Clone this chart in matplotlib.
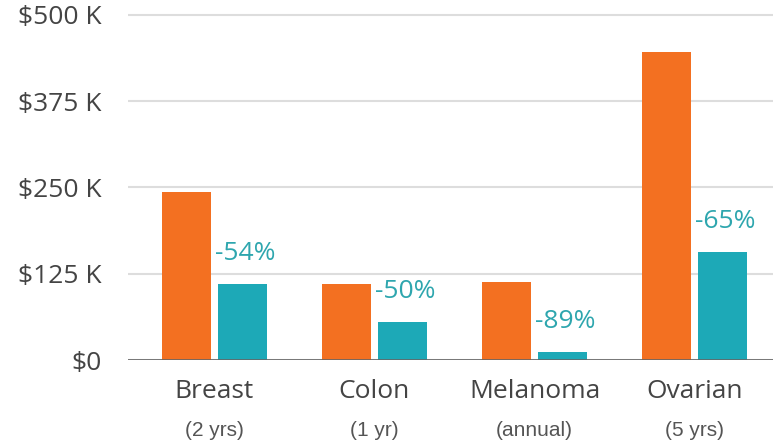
import numpy as np
import matplotlib.pyplot as plt
from matplotlib.transforms import blended_transform_factory

categories = ["Breast", "Colon", "Melanoma", "Ovarian"]
periods = ["(2 yrs)", "(1 yr)", "(annual)", "(5 yrs)"]
before_k = [243, 110, 113, 446]
after_k = [110, 55, 12, 156]
change_labels = ["-54%", "-50%", "-89%", "-65%"]
yticks = [0, 125, 250, 375, 500]
ytick_labels = ["$0", "$125 K", "$250 K", "$375 K", "$500 K"]

orange = "#F37021"
teal = "#1DA9B7"
label_teal = "#2EA6AE"

fig = plt.figure(figsize=(7.73, 4.42), dpi=100)
ax = fig.add_axes([128 / 773, 82 / 442, 645 / 773, 350 / 442])

x = np.arange(len(categories))
w = 0.306
off = 0.175
ax.bar(x - off, before_k, w, color=orange, zorder=3)
ax.bar(x + off, after_k, w, color=teal, zorder=3)

# percentage change above the teal bars
for xi, v, lab in zip(x, after_k, change_labels):
    ax.annotate(lab, (xi + off, v), xytext=(2.2, 17.3), textcoords="offset points",
                ha="center", va="baseline", color=label_teal, fontsize=19,
                family="Open Sans", zorder=4)

ax.set_xlim(-0.54, 3.49)
ax.set_ylim(0, 500 * 350 / 345)
ax.set_yticks(yticks)
ax.set_yticklabels(ytick_labels, family="Open Sans", fontsize=19, color="#444444")
ax.tick_params(axis="y", length=0, pad=19)
ax.set_xticks([])
ax.grid(axis="y", color="#DDDDDD", linewidth=1.5, zorder=0)
ax.axhline(0, color="#666666", linewidth=1.2, zorder=4)
for s in ax.spines.values():
    s.set_visible(False)

trans = blended_transform_factory(ax.transData, ax.transAxes)
for xi, cat, per in zip(x, categories, periods):
    ax.text(xi, -0.0914, cat, transform=trans, ha="center", va="center",
            family="Open Sans", fontsize=19, color="#444444")
    ax.text(xi, -0.2, per, transform=trans, ha="center", va="center",
            family="Liberation Sans", fontsize=15, color="#555555")

fig.savefig("out.png", dpi=100)
